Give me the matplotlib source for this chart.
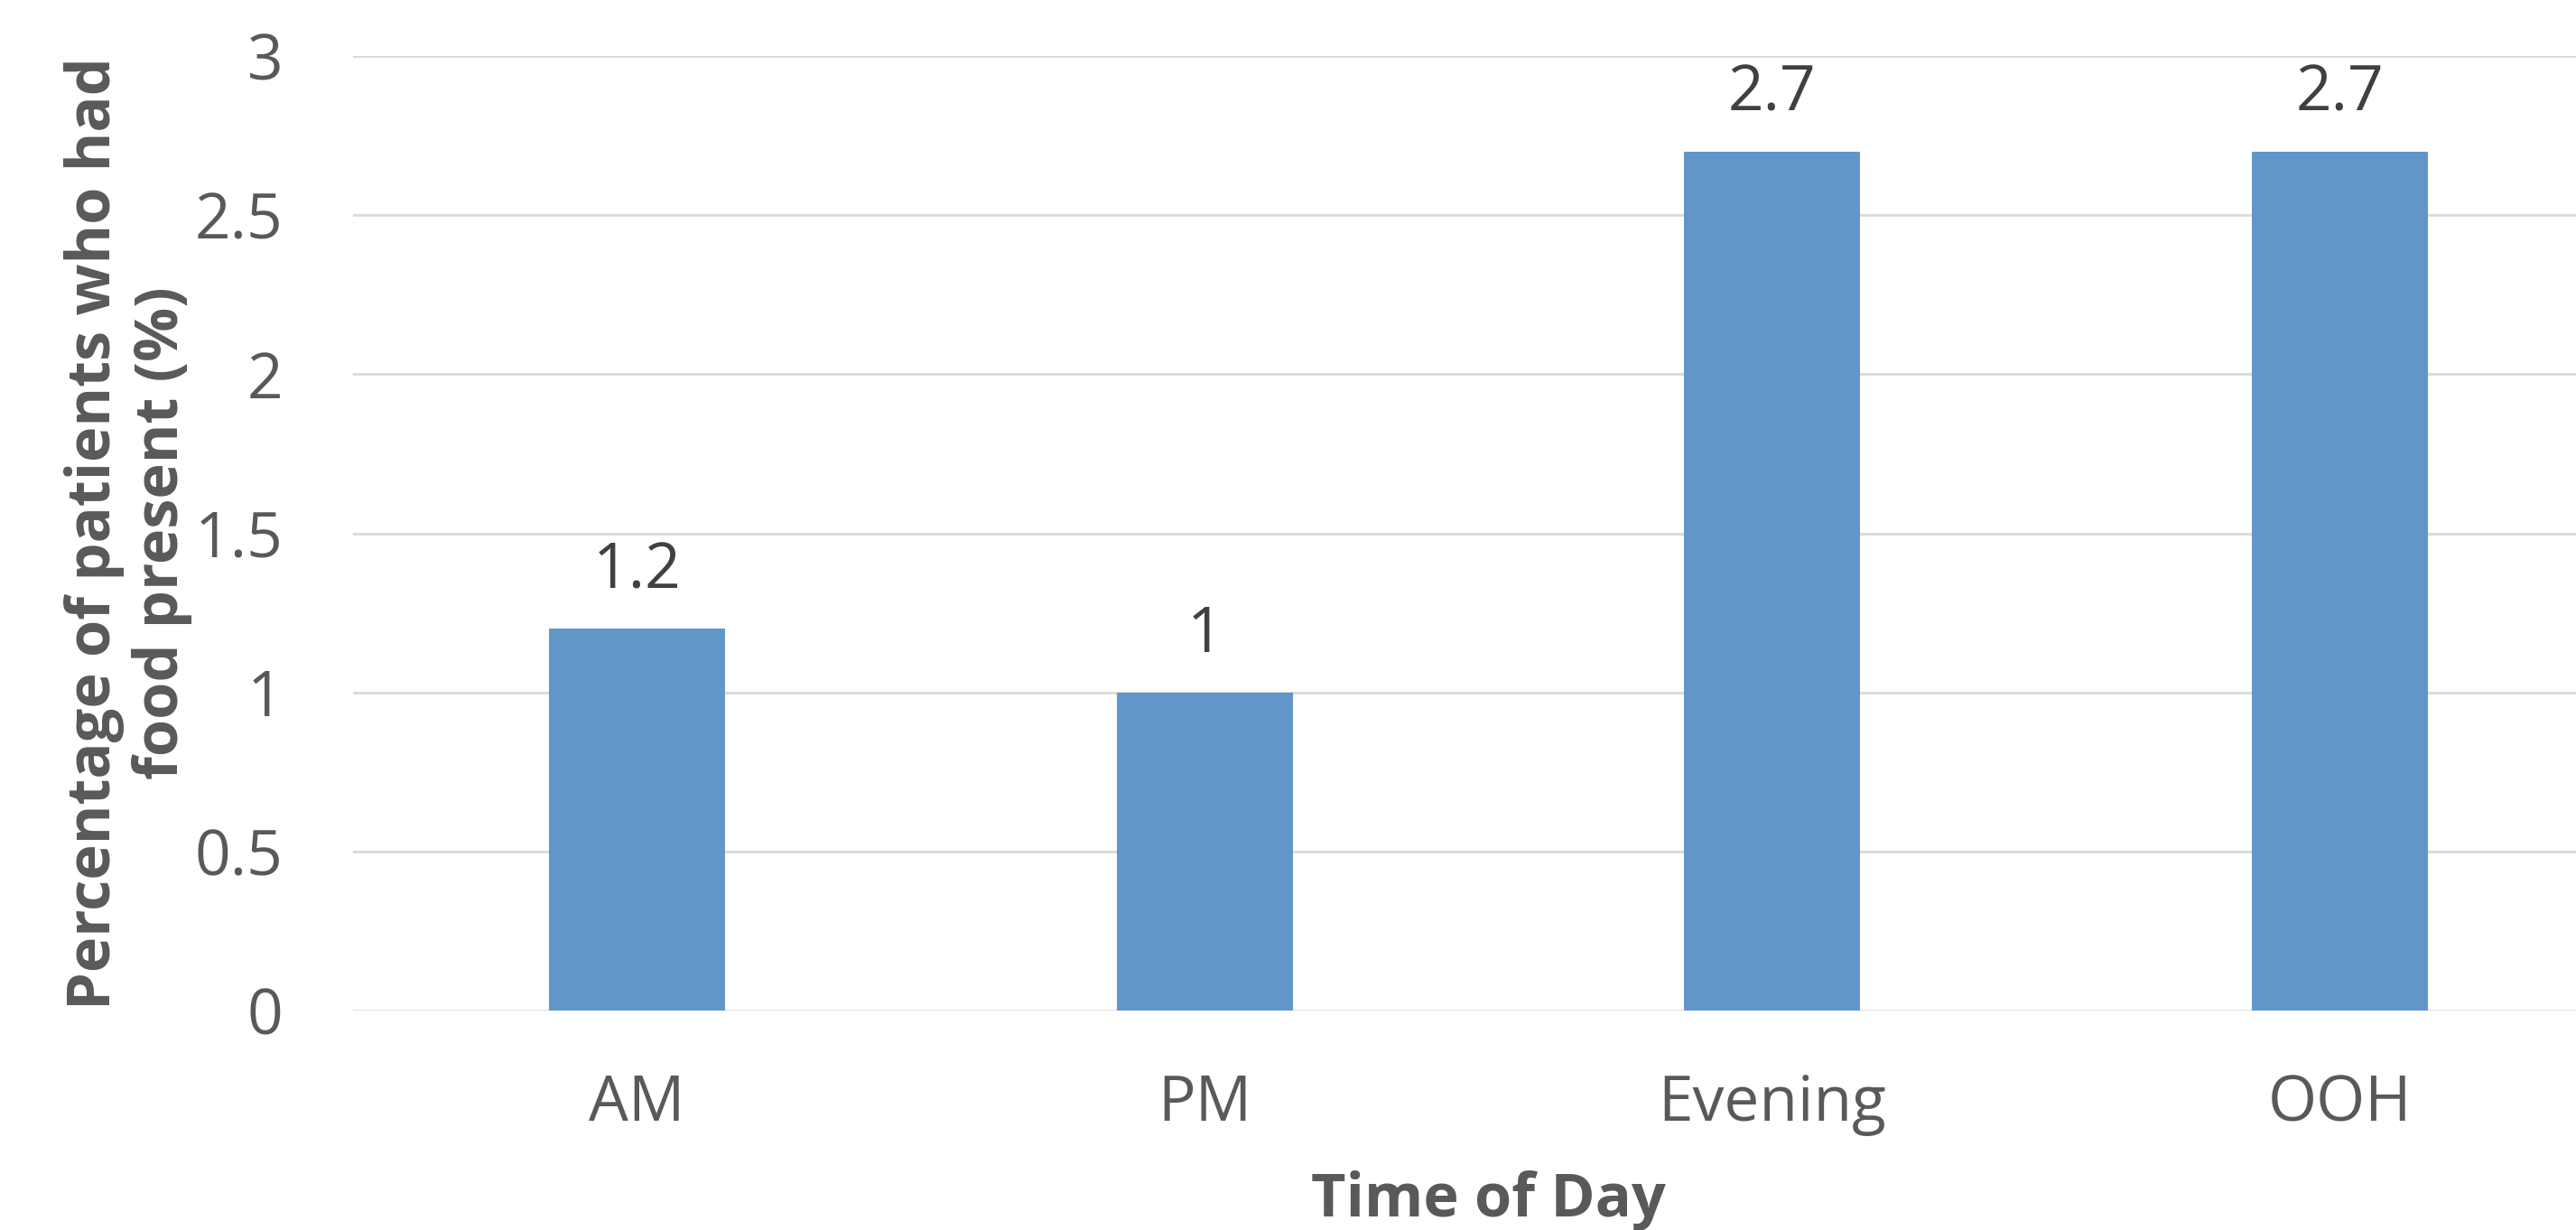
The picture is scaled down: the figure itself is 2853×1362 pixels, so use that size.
import matplotlib.pyplot as plt

# data
times = ["AM", "PM", "Evening", "OOH"]
pct_food = [1.2, 1.0, 2.7, 2.7]
bar_labels = ["1.2", "1", "2.7", "2.7"]
y_ticks = [0, 0.5, 1, 1.5, 2, 2.5, 3]
y_tick_labels = ["0", "0.5", "1", "1.5", "2", "2.5", "3"]

plt.rcParams['font.family'] = ['Open Sans', 'DejaVu Sans']

fig = plt.figure(figsize=(28.53, 13.62), dpi=100)
# plot area runs a little past the right edge, like the cropped original
ax = fig.add_axes([391 / 2853, 1 - 1119 / 1362, 2515 / 2853, (1119 - 62) / 1362])

x = range(len(times))
bars = ax.bar(x, pct_food, width=0.31, color="#6196C9", zorder=3)

for b, lab in zip(bars, bar_labels):
    ax.annotate(lab, (b.get_x() + b.get_width() / 2, b.get_height()),
                xytext=(0, 20), textcoords="offset points",
                ha="center", va="bottom", fontsize=50, color="#404040")

ax.set_xlim(-0.5, 3.5)
ax.set_ylim(0, 3)
ax.set_yticks(y_ticks)
ax.set_yticklabels(y_tick_labels)
ax.set_xticks(list(x))
ax.set_xticklabels(times)
ax.tick_params(axis="both", length=0, labelsize=50, colors="#595959")
ax.tick_params(axis="y", pad=56)
ax.tick_params(axis="x", pad=50)

ax.grid(axis="y", color="#D9D9D9", linewidth=2, zorder=0)
for s in ax.spines.values():
    s.set_visible(False)

ax.set_ylabel("Percentage of patients who had\nfood present (%)", fontsize=48,
              fontweight="bold", color="#595959", labelpad=2, linespacing=1.15)
ax.set_xlabel("Time of Day", fontsize=48, fontweight="bold", color="#595959",
              labelpad=27)

plt.savefig("out.png", dpi=100)
